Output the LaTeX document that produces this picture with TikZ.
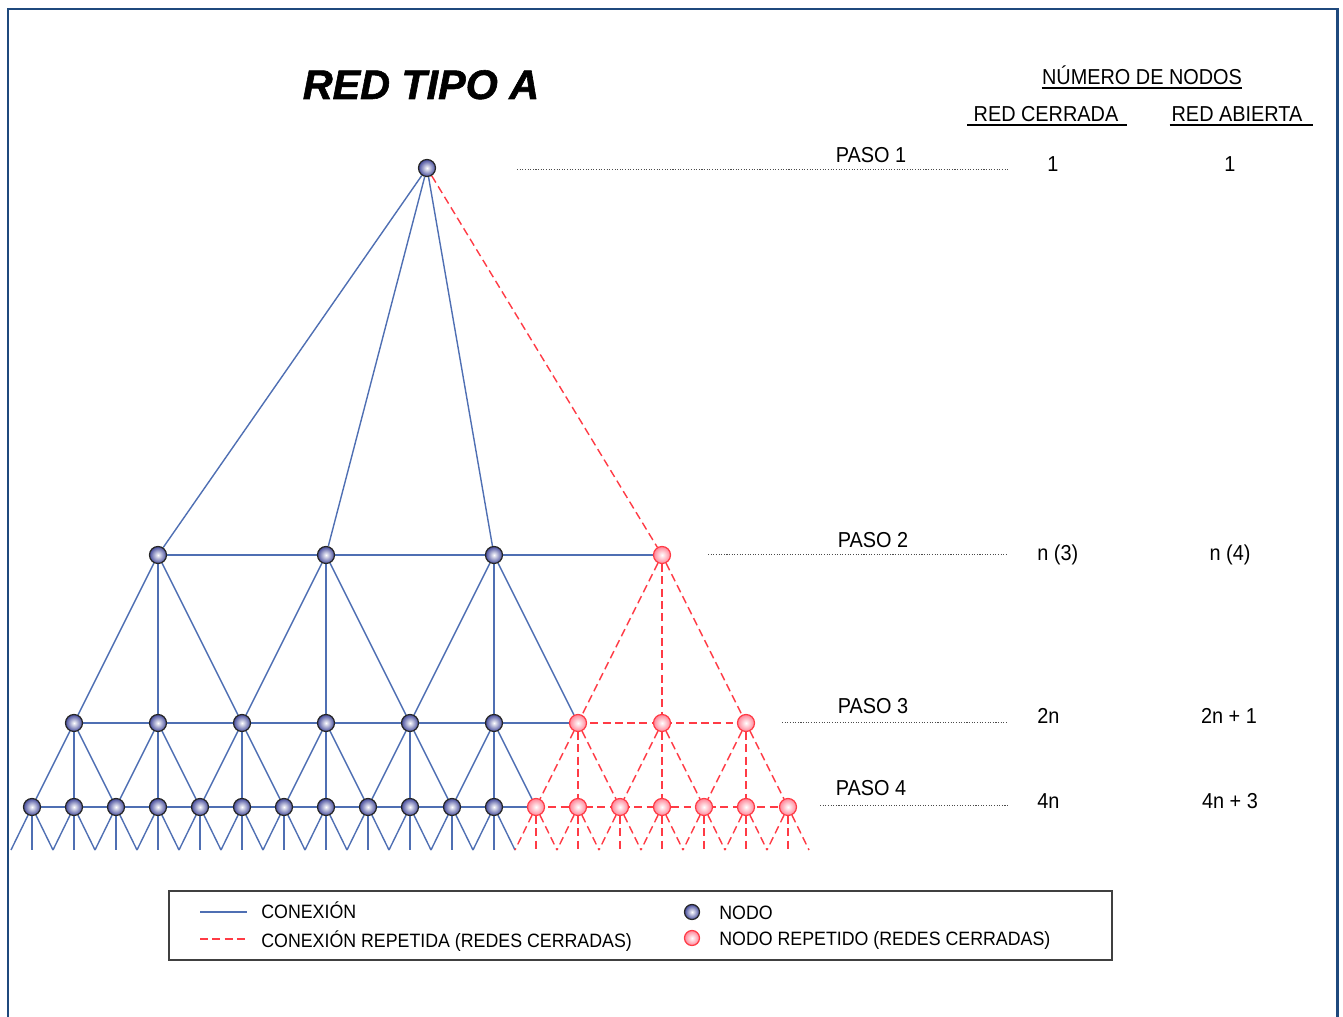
\documentclass[tikz,border=0pt]{standalone}
\usepackage{fontspec}
\setmainfont{Liberation Sans}[FakeStretch=0.92]
\newfontfamily\fuentetitulo{Liberation Sans}[FakeBold=1.4]
\usetikzlibrary{positioning,backgrounds}

\definecolor{marco}{HTML}{1F497D}
\definecolor{azul}{HTML}{4F6FB3}
\definecolor{azulnodo}{HTML}{464C9C}
\definecolor{rojo}{HTML}{FF3B45}
\definecolor{rosa}{HTML}{FF8598}

\begin{document}
\begin{tikzpicture}[x=0.02cm, y=-0.02cm,
    nodo/.style={circle, draw=black!85, line width=0.7pt, inner sep=0pt,
      minimum size=0.34cm, shading=radial, inner color=white, outer color=azulnodo},
    nodorep/.style={nodo, draw=rojo, outer color=rosa},
    conex/.style={draw=azul, line width=0.8pt},
    conexrep/.style={draw=rojo, line width=0.8pt, dash pattern=on 4.5pt off 2.5pt},
    paso/.style={draw=black!70, line width=0.5pt, dash pattern=on 0.6pt off 0.9pt},
    texto/.style={font=\fontsize{12.3}{14}\selectfont, inner sep=0pt, anchor=base},
    textoley/.style={font=\fontsize{11}{13}\selectfont, inner sep=0pt, anchor=base west},
    subr/.style={draw=black, line width=1pt}]
  \useasboundingbox (0,0) rectangle (1343,1017);
  % marco (abierto por abajo)
  \draw[marco, line width=1.7pt] (8,1017) -- (8,9) -- (1337,9) -- (1337,1017);

  \node[font=\fuentetitulo\fontsize{23.5}{28}\selectfont\bfseries\itshape, anchor=base] (titulo) at (421,99) {RED TIPO A};

  % nodos de la red
  \node[nodo] (r) at (427,168) {};
  \foreach \i [evaluate=\i as \xx using -10+168*\i] in {1,...,3}
    \node[nodo] (a\i) at (\xx,555) {};
  \node[nodorep] (a4) at (662,555) {};
  \foreach \i [evaluate=\i as \xx using -10+84*\i] in {1,...,6}
    \node[nodo] (b\i) at (\xx,723) {};
  \foreach \i [evaluate=\i as \xx using -10+84*\i] in {7,...,9}
    \node[nodorep] (b\i) at (\xx,723) {};
  \foreach \i [evaluate=\i as \xx using -10+42*\i] in {1,...,12}
    \node[nodo] (c\i) at (\xx,807) {};
  \foreach \i [evaluate=\i as \xx using -10+42*\i] in {13,...,19}
    \node[nodorep] (c\i) at (\xx,807) {};
  % puntas abiertas bajo el paso 4
  \foreach \i [evaluate=\i as \xx using -10+42*\i] in {1,...,19} {
    \coordinate (pi\i) at (\xx-21,850);
    \coordinate (pc\i) at (\xx,850);
    \coordinate (pd\i) at (\xx+21,850);
  }

  % conexiones, por debajo de los nodos
  \begin{scope}[on background layer]
    \path (r) edge[conex] (a1) edge[conex] (a2) edge[conex] (a3) edge[conexrep] (a4);
    \draw[conex] (a1.center) -- (a2.center) -- (a3.center) -- (a4.center);
    \draw[conex] (b1.center) \foreach \j in {2,...,7} { -- (b\j.center) };
    \draw[conexrep] (b7.center) -- (b8.center) -- (b9.center);
    \draw[conex] (c1.center) \foreach \j in {2,...,13} { -- (c\j.center) };
    \draw[conexrep] (c13.center) \foreach \j in {14,...,19} { -- (c\j.center) };
    \foreach \i in {1,...,3} {
      \pgfmathtruncatemacro\hizq{2*\i-1}
      \pgfmathtruncatemacro\hmed{2*\i}
      \pgfmathtruncatemacro\hder{2*\i+1}
      \path (a\i) edge[conex] (b\hizq) edge[conex] (b\hmed) edge[conex] (b\hder);
    }
    \path (a4) edge[conexrep] (b7) edge[conexrep] (b8) edge[conexrep] (b9);
    \foreach \i in {1,...,6} {
      \pgfmathtruncatemacro\hizq{2*\i-1}
      \pgfmathtruncatemacro\hmed{2*\i}
      \pgfmathtruncatemacro\hder{2*\i+1}
      \path (b\i) edge[conex] (c\hizq) edge[conex] (c\hmed) edge[conex] (c\hder);
    }
    \foreach \i in {7,...,9} {
      \pgfmathtruncatemacro\hizq{2*\i-1}
      \pgfmathtruncatemacro\hmed{2*\i}
      \pgfmathtruncatemacro\hder{2*\i+1}
      \path (b\i) edge[conexrep] (c\hizq) edge[conexrep] (c\hmed) edge[conexrep] (c\hder);
    }
    \foreach \i in {1,...,12}
      \path (c\i) edge[conex] (pi\i) edge[conex] (pc\i) edge[conex] (pd\i);
    \foreach \i in {13,...,19}
      \path (c\i) edge[conexrep] (pi\i) edge[conexrep] (pc\i) edge[conexrep] (pd\i);
  \end{scope}

  % cabecera de la tabla
  \node[texto] (hnum) at (1142,85) {NÚMERO DE NODOS};
  \node[texto] (hcer) at (1046,122) {RED CERRADA};
  \node[texto] (hab) at (1237,122) {RED ABIERTA};
  \draw[subr] ([yshift=-1.3pt]hnum.south west) -- ([yshift=-1.3pt]hnum.south east);
  \draw[subr] ([xshift=-3.5pt,yshift=-1.3pt]hcer.south west) -- ([xshift=4.5pt,yshift=-1.3pt]hcer.south east);
  \draw[subr] ([xshift=-1pt,yshift=-1.3pt]hab.south west) -- ([xshift=6pt,yshift=-1.3pt]hab.south east);

  % pasos
  \draw[paso] (517,169) -- (1008,169);
  \draw[paso] (708,554) -- (1008,554);
  \draw[paso] (782,722) -- (1008,722);
  \draw[paso] (820,805) -- (1008,805);
  \node[texto] (paso1) at (871,163) {PASO 1};
  \node[texto] (paso2) at (873,547) {PASO 2};
  \node[texto] (paso3) at (873,713) {PASO 3};
  \node[texto] (paso4) at (871,795) {PASO 4};

  % numero de nodos por paso
  \node[texto] (cer1) at (1053,172) {1};
  \node[texto, anchor=base west] (cer2) at (1037,560) {n (3)};
  \node[texto, anchor=base west] (cer3) at (1037,723) {2n};
  \node[texto, anchor=base west] (cer4) at (1037,808) {4n};
  \node[texto] (ab1) at (1230,172) {1};
  \node[texto] (ab2) at (1230,560) {n (4)};
  \node[texto] (ab3) at (1229,723) {2n + 1};
  \node[texto] (ab4) at (1230,808) {4n + 3};

  % leyenda
  \draw[draw=black!75, line width=0.8pt] (169,891) rectangle (1112,960);
  \coordinate (l1a) at (200,912);
  \coordinate (l1b) at (247,912);
  \coordinate (l2a) at (200,939);
  \coordinate (l2b) at (247,939);
  \draw[conex] (l1a) -- (l1b);
  \draw[conexrep] (l2a) -- (l2b);
  \node[textoley] (tcon) at (261,918) {CONEXIÓN};
  \node[textoley] (tconrep) at (261,947) {CONEXIÓN REPETIDA (REDES CERRADAS)};
  \node[nodo, minimum size=0.3cm] (lnodo) at (692,912) {};
  \node[nodorep, minimum size=0.3cm] (lnodorep) at (692,938) {};
  \node[textoley] (tnodo) at (719,919) {NODO};
  \node[textoley] (tnodorep) at (719,945) {NODO REPETIDO (REDES CERRADAS)};
\end{tikzpicture}
\end{document}
